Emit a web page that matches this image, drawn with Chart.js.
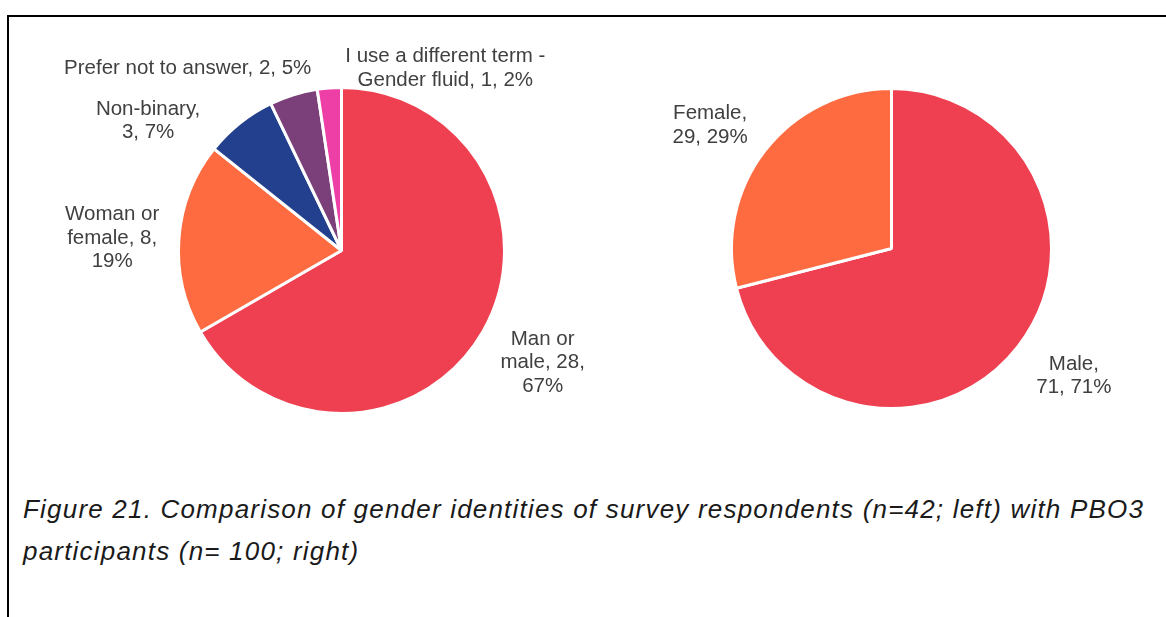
<!DOCTYPE html>
<html>
<head>
<meta charset="utf-8">
<script src="https://cdn.jsdelivr.net/npm/chart.js@4.4.0/dist/chart.umd.min.js"></script>
<style>
  body { margin: 0; background: #fff; width: 1166px; height: 617px; overflow: hidden; position: relative; font-family: "Liberation Sans", Arial, sans-serif; }
  #frame { position: absolute; left: 7px; top: 15px; right: -10px; bottom: -10px; border-top: 2px solid #000; border-left: 2px solid #000; }
  #left { position: absolute; left: 0; top: 0; }
  #right { position: absolute; left: 600px; top: 0; }
  #caption { position: absolute; left: 23px; top: 488px; font-style: italic; font-size: 26px; letter-spacing: 1.2px; line-height: 42px; color: #1a1a1a; white-space: nowrap; }
</style>
</head>
<body>
<div id="frame"></div>
<canvas id="left" width="600" height="470"></canvas>
<canvas id="right" width="566" height="470"></canvas>
<div id="caption">Figure 21. Comparison of gender identities of survey respondents (n=42; left) with PBO3<br>participants (n= 100; right)</div>
<script>
// survey respondents (n=42)
var surveyLabels = ['Man or male', 'Woman or female', 'Non-binary', 'Prefer not to answer', 'I use a different term - Gender fluid'];
var surveyCounts = [28, 8, 3, 2, 1];
var surveyColors = ['#EE4050', '#FF6B40', '#23408E', '#7B4079', '#EE3FA6'];

// PBO3 participants (n=100)
var pboLabels = ['Male', 'Female'];
var pboCounts = [71, 29];
var pboColors = ['#EE4050', '#FF6B40'];

function wrapText(ctx, text, maxWidth) {
    var words = text.split(' ');
    var lines = [];
    var line = words[0];
    for (var i = 1; i < words.length; i++) {
        var test = line + ' ' + words[i];
        if (ctx.measureText(test).width > maxWidth) {
            lines.push(line);
            line = words[i];
        } else {
            line = test;
        }
    }
    lines.push(line);
    return lines;
}

// Excel-style outside labels: "name, count, pct%"
const outsideLabels = {
    id: 'outsideLabels',
    afterDatasetsDraw(chart, args, opts) {
        const ctx = chart.ctx;
        const meta = chart.getDatasetMeta(0);
        const values = chart.data.datasets[0].data;
        const total = values.reduce((a, b) => a + b, 0);
        ctx.save();
        ctx.font = opts.font;
        ctx.fillStyle = opts.color;
        ctx.textAlign = 'center';
        ctx.textBaseline = 'middle';
        meta.data.forEach((arc, i) => {
            const p = arc.getProps(['x', 'y', 'startAngle', 'endAngle', 'outerRadius'], true);
            const mid = (p.startAngle + p.endAngle) / 2;
            const d = p.outerRadius + opts.distance;
            const nudge = opts.nudges[i];
            const cx = p.x + Math.cos(mid) * d + nudge[0];
            const cy = p.y + Math.sin(mid) * d + nudge[1];
            const text = chart.data.labels[i] + ', ' + values[i] + ', ' + Math.round(values[i] / total * 100) + '%';
            const lines = wrapText(ctx, text, opts.widths[i]);
            lines.forEach((ln, k) => {
                ctx.fillText(ln, cx, cy + (k - (lines.length - 1) / 2) * opts.lineHeight);
            });
        });
        ctx.restore();
    }
};

function makePie(id, labels, counts, colors, padding, labelOpts) {
    let ctx = document.getElementById(id).getContext('2d');
    return new Chart(ctx, {
        type: 'pie',
        data: {
            labels: labels,
            datasets: [{
                data: counts,
                backgroundColor: colors,
                borderColor: '#ffffff',
                borderWidth: 3
            }]
        },
        options: {
            responsive: false,
            animation: false,
            layout: { padding: padding },
            plugins: {
                legend: { display: false },
                tooltip: { enabled: false },
                outsideLabels: labelOpts
            }
        },
        plugins: [outsideLabels]
    });
}

makePie('left', surveyLabels, surveyCounts, surveyColors,
    { left: 177, right: 94, top: 86, bottom: 55 },
    {
        font: '20.5px "Liberation Sans", Arial, sans-serif',
        color: '#404040',
        lineHeight: 23.5,
        distance: 67,
        widths: [90, 100, 115, 300, 215],
        nudges: [[2, -3], [0, 5], [-50, 50], [-86, 38], [121, 47]]
    });

makePie('right', pboLabels, pboCounts, pboColors,
    { left: 130, right: 113, top: 87, bottom: 60 },
    {
        font: '20.5px "Liberation Sans", Arial, sans-serif',
        color: '#404040',
        lineHeight: 23.5,
        distance: 67,
        widths: [80, 95],
        nudges: [[3, -12], [-2, 16]]
    });
</script>
</body>
</html>
